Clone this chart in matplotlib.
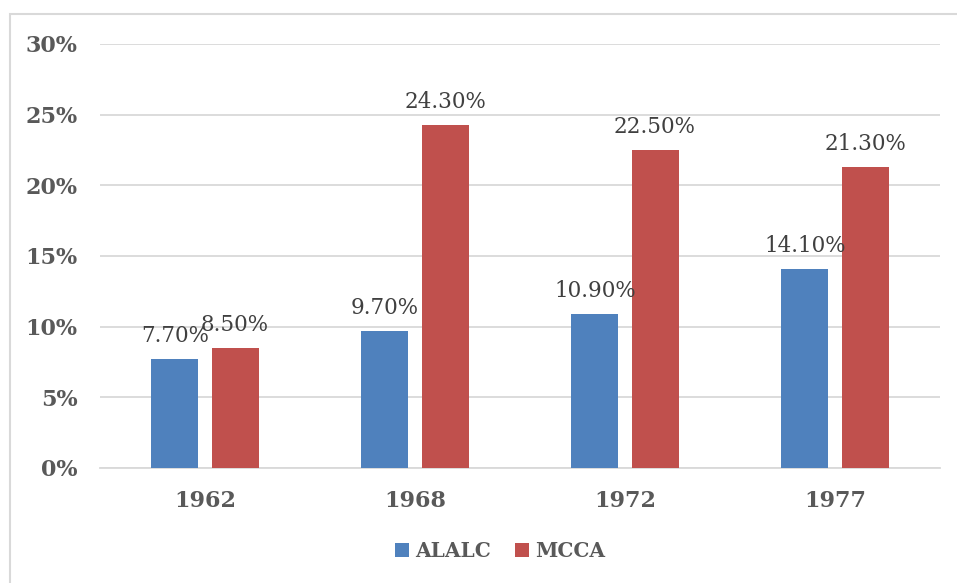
import matplotlib
matplotlib.use("Agg")
import matplotlib.pyplot as plt
from matplotlib.patches import Rectangle
import numpy as np

years = ["1962", "1968", "1972", "1977"]
alalc = [7.7, 9.7, 10.9, 14.1]
mcca = [8.5, 24.3, 22.5, 21.3]
series_names = ["ALALC", "MCCA"]
yticks = [0, 5, 10, 15, 20, 25, 30]

W, H = 957, 583
fig = plt.figure(figsize=(W / 100, H / 100), dpi=100)
plt.rcParams['font.family'] = ['DejaVu Serif']

# outer border
fig.patches.append(Rectangle((10 / W, -0.1), 1.5, 1 - 14 / H + 0.1,
                             transform=fig.transFigure, fill=False,
                             edgecolor="#d9d9d9", linewidth=1.5))

ax = fig.add_axes([100 / W, 1 - 468 / H, 840 / W, 424 / H])
x = np.arange(len(years))
bw = 0.224
off = 0.143
b1 = ax.bar(x - off, alalc, bw, color="#4F81BD", label=series_names[0], zorder=3)
b2 = ax.bar(x + off, mcca, bw, color="#C0504D", label=series_names[1], zorder=3)

for bars, vals in ((b1, alalc), (b2, mcca)):
    for rect, v in zip(bars, vals):
        ax.text(rect.get_x() + rect.get_width() / 2, v + 0.85, f"{v:.2f}%",
                ha="center", va="bottom", fontsize=15.5, color="#404040")

ax.set_xlim(-0.5, 3.5)
ax.set_ylim(0, 30)
ax.set_yticks(yticks)
ax.set_yticklabels([f"{t}%" for t in yticks], fontsize=16, fontweight="bold",
                   color="#595959")
ax.set_xticks(x)
ax.set_xticklabels(years, fontsize=16, fontweight="bold", color="#595959")
ax.tick_params(axis="both", length=0)
ax.tick_params(axis="y", pad=16)
ax.tick_params(axis="x", pad=16)
ax.grid(axis="y", color="#d9d9d9", linewidth=1.3, zorder=0)
for s in ["left", "right", "top"]:
    ax.spines[s].set_visible(False)
ax.spines["bottom"].set_color("#d9d9d9")
ax.spines["bottom"].set_linewidth(1.3)

leg = fig.legend(handles=[b1, b2], labels=series_names, loc="center",
                 bbox_to_anchor=(500 / W, 1 - 551 / H), ncol=2, frameon=False,
                 handlelength=0.7, handleheight=0.7, handletextpad=0.3,
                 columnspacing=1.2,
                 prop={"size": 14.5, "weight": "bold"})
for t in leg.get_texts():
    t.set_color("#595959")

fig.savefig("out.png", dpi=100)
